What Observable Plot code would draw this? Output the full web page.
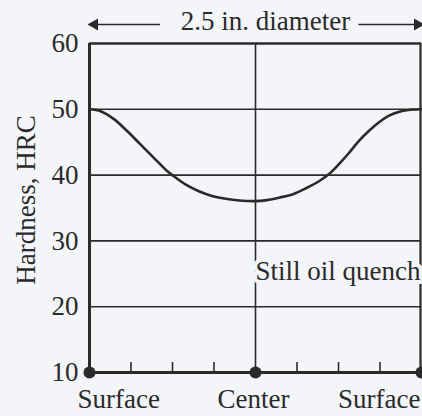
<!DOCTYPE html>
<html><head><meta charset="utf-8">
<script src="https://cdn.jsdelivr.net/npm/d3@7"></script>
<script src="https://cdn.jsdelivr.net/npm/@observablehq/plot@0.6"></script>
<style>
html,body{margin:0;padding:0;background:#f3f5f9;}
#chart svg{display:block;}
</style></head><body><div id="chart"></div>
<script>
// position across the bar, inches from center (2.5 in. diameter)
const positions = [-1.25, -1.166, -1.066, -0.967, -0.868, -0.769, -0.670, -0.620, -0.521, -0.422, -0.322, -0.223, -0.099, 0, 0.084, 0.184, 0.283, 0.381, 0.481, 0.556, 0.630, 0.705, 0.779, 0.853, 0.928, 1.002, 1.077, 1.151, 1.25];
const hardness  = [50, 49.7, 48.5, 46.7, 44.7, 42.7, 40.7, 39.9, 38.5, 37.5, 36.8, 36.4, 36.1, 36.05, 36.2, 36.6, 37.1, 38.0, 39.1, 40.2, 41.7, 43.4, 45.2, 46.7, 48.0, 49.0, 49.6, 49.9, 50];
const yTicks = [10, 20, 30, 40, 50, 60];
const gridY = [20, 30, 40, 50];
const xLabels = ["Surface", "Center", "Surface"];
const xLabelPos = [-1.25, 0, 1.25];
const minorTicks = [-0.9375, -0.625, -0.3125, 0.3125, 0.625, 0.9375];
const titleText = "2.5 in. diameter";
const arrowFrom = [-0.72, 0.775];
const arrowTo = [-1.25, 1.25];
const noteText = "Still oil quench";
const notePos = {x: 0, y: 25.4};
const yLabel = "Hardness, HRC";

const curve = positions.map((p, i) => ({p, h: hardness[i]}));
const arrows = arrowFrom.map((f, i) => ({f, t: arrowTo[i]}));
const ink = "#2a2a2a";
const bg = "#f3f5f9";
const font = "'Liberation Serif', 'Times New Roman', serif";

const chart = Plot.plot({
  width: 422, height: 416,
  marginTop: 43, marginBottom: 44, marginLeft: 89, marginRight: 1,
  style: {background: "transparent", fontFamily: font, fontSize: "27px", color: ink},
  x: {domain: [-1.25, 1.25], axis: null},
  y: {domain: [10, 60], axis: null},
  marks: [
    Plot.ruleY(gridY, {stroke: ink, strokeWidth: 1.6}),
    Plot.ruleY([60], {stroke: ink, strokeWidth: 2.5}),
    Plot.ruleX([0], {y1: 10, y2: 60, stroke: ink, strokeWidth: 1.6}),
    Plot.ruleX([-1.25], {y1: 10, y2: 60, stroke: ink, strokeWidth: 3}),
    Plot.ruleX([1.25], {y1: 10, y2: 60, stroke: ink, strokeWidth: 2.2, dx: -1}),
    Plot.ruleX(minorTicks, {y1: 10, y2: 10, insetTop: -10, stroke: ink, strokeWidth: 1.6}),
    Plot.ruleY([10], {stroke: ink, strokeWidth: 3}),
    Plot.line(curve, {x: "p", y: "h", curve: "catmull-rom", stroke: ink, strokeWidth: 2.6}),
    Plot.text([noteText], {x: notePos.x, y: notePos.y, text: d => d, textAnchor: "start", lineAnchor: "middle", fill: ink, stroke: bg, strokeWidth: 8, paintOrder: "stroke", clip: false}),
    Plot.dot(xLabelPos, {x: d => d, y: 10, r: 6, fill: ink, clip: false}),
    Plot.axisY(yTicks, {tickSize: 0, tickPadding: 11, label: null, fontSize: 27, fill: ink}),
    Plot.text([xLabels[0]], {x: xLabelPos[0], frameAnchor: "bottom", text: d => d, textAnchor: "start", dx: -12, dy: 27, lineAnchor: "middle", fill: ink}),
    Plot.text([xLabels[1]], {x: xLabelPos[1], frameAnchor: "bottom", text: d => d, textAnchor: "middle", dx: -2, dy: 27, lineAnchor: "middle", fill: ink}),
    Plot.text([xLabels[2]], {x: xLabelPos[2], frameAnchor: "bottom", text: d => d, textAnchor: "end", dx: -1, dy: 27, lineAnchor: "middle", fill: ink}),
    Plot.text([yLabel], {frameAnchor: "left", text: d => d, rotate: -90, textAnchor: "middle", dx: -63, dy: -8, lineAnchor: "middle", fill: ink}),
    Plot.text([titleText], {frameAnchor: "top", text: d => d, textAnchor: "middle", dx: 10, dy: -22, lineAnchor: "middle", fill: ink}),
    Plot.link(arrows, {x1: "f", x2: "t", y1: 60, y2: 60, dy: -19, stroke: ink, strokeWidth: 1.6}),
    Plot.dot([arrows[0]], {x: "t", y: 60, dy: -19, dx: 5, symbol: "triangle", rotate: -90, r: 4.5, fill: ink, stroke: "none", clip: false}),
    Plot.dot([arrows[1]], {x: "t", y: 60, dy: -19, dx: -4, symbol: "triangle", rotate: 90, r: 4.5, fill: ink, stroke: "none", clip: false})
  ]
});
document.getElementById("chart").append(chart);
</script></body></html>
